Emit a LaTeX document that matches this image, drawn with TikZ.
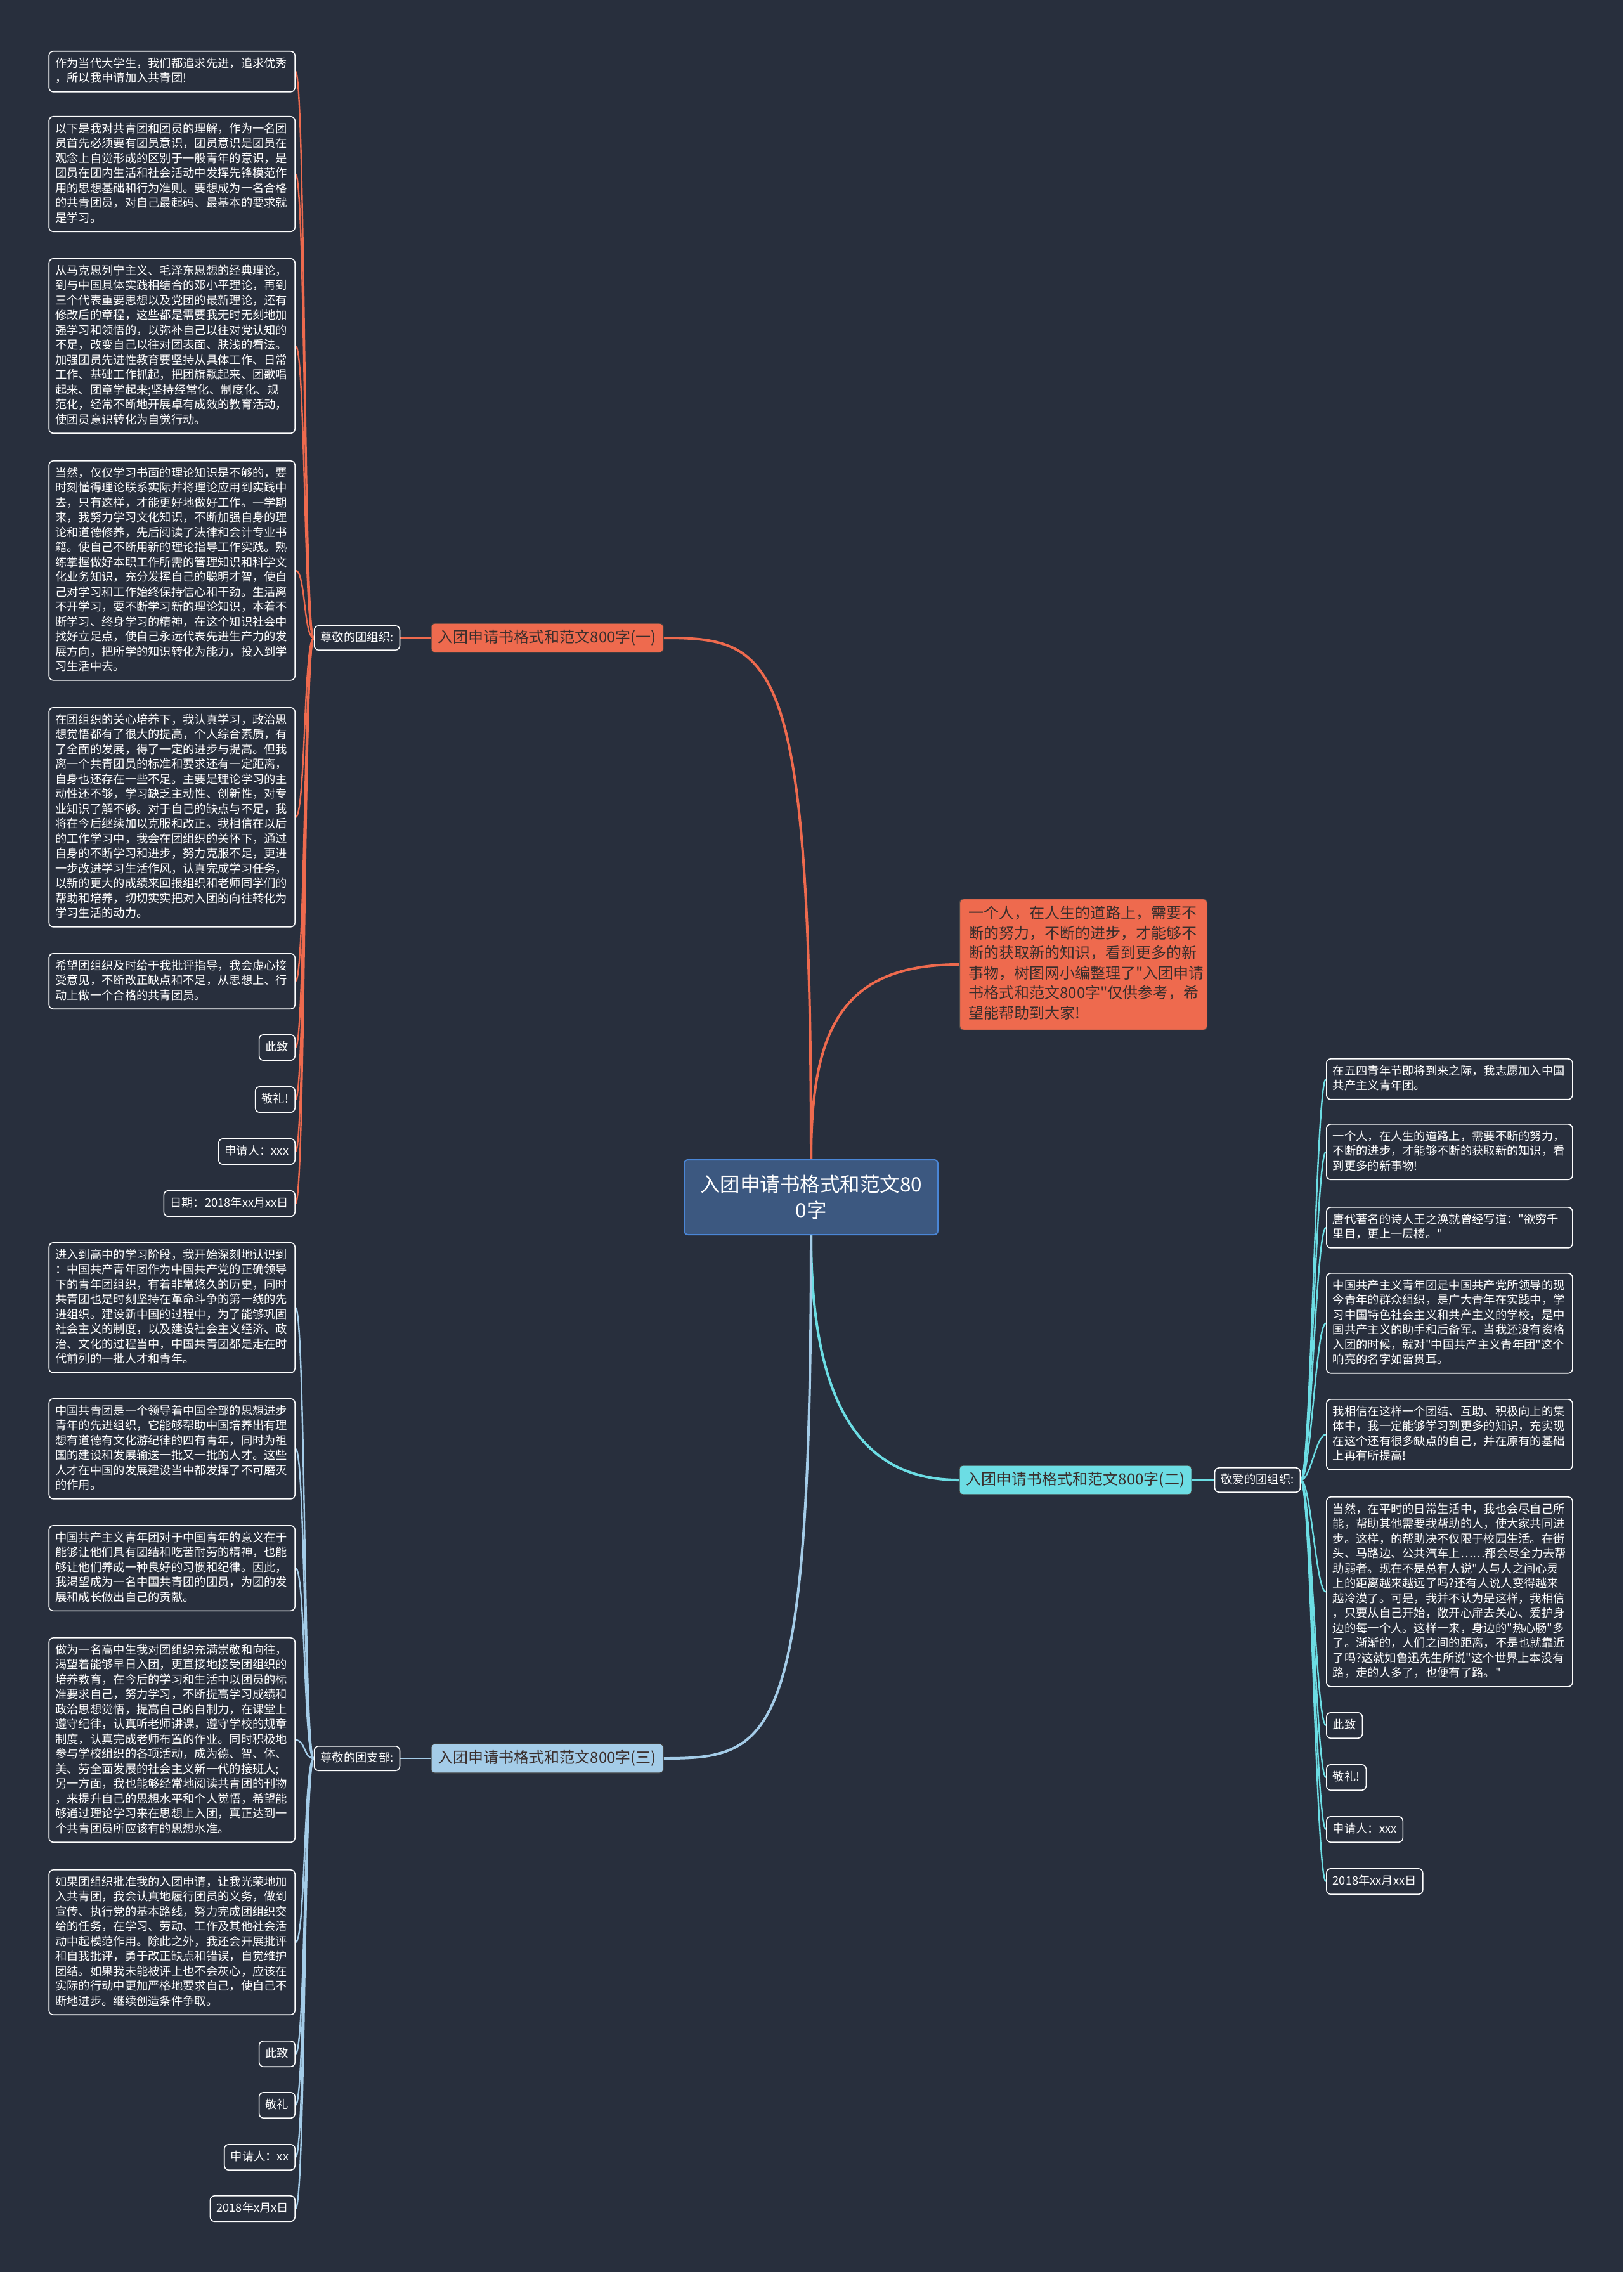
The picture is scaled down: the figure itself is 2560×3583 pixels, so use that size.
\documentclass[tikz,border=0pt]{standalone}
\usepackage{fontspec}
\setmainfont{Noto Sans CJK SC}[Ligatures=TeXOff]
\definecolor{bg}{HTML}{282F3D}
\definecolor{c1}{HTML}{EE6A4E}
\definecolor{c2}{HTML}{6CDDE4}
\definecolor{c3}{HTML}{A4CCE8}
\definecolor{ctrfill}{HTML}{3C5880}
\definecolor{ctrline}{HTML}{4A86D6}
\definecolor{dtext}{HTML}{3A2E2C}
\newcommand\lfont{\fontsize{18.3pt}{23.5pt}\selectfont}
\newcommand\lstrut{\rule[-5pt]{0pt}{18.5pt}}
\newcommand\tb[1]{\lstrut#1\lstrut}
\newcommand\istrut{\rule[-7pt]{0pt}{24.5pt}}
\pgfdeclarelayer{background}
\pgfsetlayers{background,main}
\begin{document}
\begin{tikzpicture}[x=1pt,y=-1pt,
 leaf/.style={draw=white, line width=1.6pt, rounded corners=7pt, fill=bg, text=white,
   inner xsep=10pt, inner ysep=10pt, font=\lfont, align=left},
 para/.style={leaf, text width=368pt},
 lleaf/.style={leaf, anchor=north east},
 rleaf/.style={leaf, anchor=north west},
 lpara/.style={para, anchor=north east},
 rpara/.style={para, anchor=north west},
 sub/.style={leaf, inner ysep=9pt},
 branch/.style={rounded corners=6pt, line width=1.2pt, draw=black!75,
   font=\fontsize{24pt}{30pt}\selectfont, text=dtext, inner xsep=11pt,
   minimum height=46pt, minimum width=364pt},
 main1/.style={c1, line width=4pt},
 main2/.style={c2, line width=4pt},
 main3/.style={c3, line width=4pt},
 thin1/.style={c1, line width=2.4pt},
 thin2/.style={c2, line width=2.4pt},
 thin3/.style={c3, line width=2.4pt}
]
\useasboundingbox (0,0) rectangle (2560,3583);
\begin{pgfonlayer}{background}
\fill[bg] (0,0) rectangle (2560,3583);
\end{pgfonlayer}

% center
\node[fill=ctrfill, draw=ctrline, line width=2pt, rounded corners=6pt,
  minimum width=400pt, minimum height=118pt, align=center, text=white,
  font=\fontsize{31.5pt}{41pt}\selectfont] (ctr) at (1279,1888)
  {入团申请书格式和范文80\\0字};

% intro
\node[anchor=north west, fill=c1, draw=black!70, line width=1.2pt, rounded corners=6pt,
  text width=362pt, inner xsep=14pt, inner ysep=11pt, align=left, text=dtext,
  font=\fontsize{24pt}{31.5pt}\selectfont] (intro) at (1513,1417)
  {\istrut 一个人，在人生的道路上，需要不\\
  断的努力，不断的进步，才能够不\\
  断的获取新的知识，看到更多的新\\
  事物，树图网小编整理了"入团申请\\
  书格式和范文800字"仅供参考，希\\
  望能帮助到大家!\istrut};

% branches
\node[branch, fill=c1] (b1) at (863,1006) {入团申请书格式和范文800字(一)};
\node[branch, fill=c2] (b2) at (1696,2334) {入团申请书格式和范文800字(二)};
\node[branch, fill=c3] (b3) at (863,2773) {入团申请书格式和范文800字(三)};

\node[sub] (s1) at (563,1006) {\lstrut 尊敬的团组织:};
\node[sub] (s2) at (1983,2334) {\lstrut 敬爱的团组织:};
\node[sub] (s3) at (563,2773) {\lstrut 尊敬的团支部:};

% ---------- branch 1 leaves ----------
\node[lpara] (a1) at (466,80) {\tb{作为当代大学生，我们都追求先进，追求优秀\\
，所以我申请加入共青团!}};
\node[lpara] (a2) at (466,183) {\tb{以下是我对共青团和团员的理解，作为一名团\\
员首先必须要有团员意识，团员意识是团员在\\
观念上自觉形成的区别于一般青年的意识，是\\
团员在团内生活和社会活动中发挥先锋模范作\\
用的思想基础和行为准则。要想成为一名合格\\
的共青团员，对自己最起码、最基本的要求就\\
是学习。}};
\node[lpara] (a3) at (466,407) {\tb{从马克思列宁主义、毛泽东思想的经典理论，\\
到与中国具体实践相结合的邓小平理论，再到\\
三个代表重要思想以及党团的最新理论，还有\\
修改后的章程，这些都是需要我无时无刻地加\\
强学习和领悟的，以弥补自己以往对党认知的\\
不足，改变自己以往对团表面、肤浅的看法。\\
加强团员先进性教育要坚持从具体工作、日常\\
工作、基础工作抓起，把团旗飘起来、团歌唱\\
起来、团章学起来;坚持经常化、制度化、规\\
范化，经常不断地开展卓有成效的教育活动，\\
使团员意识转化为自觉行动。}};
\node[lpara] (a4) at (466,726) {\tb{当然，仅仅学习书面的理论知识是不够的，要\\
时刻懂得理论联系实际并将理论应用到实践中\\
去，只有这样，才能更好地做好工作。一学期\\
来，我努力学习文化知识，不断加强自身的理\\
论和道德修养，先后阅读了法律和会计专业书\\
籍。使自己不断用新的理论指导工作实践。熟\\
练掌握做好本职工作所需的管理知识和科学文\\
化业务知识，充分发挥自己的聪明才智，使自\\
己对学习和工作始终保持信心和干劲。生活离\\
不开学习，要不断学习新的理论知识，本着不\\
断学习、终身学习的精神，在这个知识社会中\\
找好立足点，使自己永远代表先进生产力的发\\
展方向，把所学的知识转化为能力，投入到学\\
习生活中去。}};
\node[lpara] (a5) at (466,1115) {\tb{在团组织的关心培养下，我认真学习，政治思\\
想觉悟都有了很大的提高，个人综合素质，有\\
了全面的发展，得了一定的进步与提高。但我\\
离一个共青团员的标准和要求还有一定距离，\\
自身也还存在一些不足。主要是理论学习的主\\
动性还不够，学习缺乏主动性、创新性，对专\\
业知识了解不够。对于自己的缺点与不足，我\\
将在今后继续加以克服和改正。我相信在以后\\
的工作学习中，我会在团组织的关怀下，通过\\
自身的不断学习和进步，努力克服不足，更进\\
一步改进学习生活作风，认真完成学习任务，\\
以新的更大的成绩来回报组织和老师同学们的\\
帮助和培养，切切实实把对入团的向往转化为\\
学习生活的动力。}};
\node[lpara] (a6) at (466,1503) {\tb{希望团组织及时给于我批评指导，我会虚心接\\
受意见，不断改正缺点和不足，从思想上、行\\
动上做一个合格的共青团员。}};
\node[lleaf] (a7) at (466,1631) {\lstrut 此致};
\node[lleaf] (a8) at (466,1713) {\lstrut 敬礼!};
\node[lleaf] (a9) at (466,1795) {\lstrut 申请人：xxx};
\node[lleaf] (a10) at (466,1877) {\lstrut 日期：2018年xx月xx日};

% ---------- branch 3 leaves ----------
\node[lpara] (m1) at (466,1959) {\tb{进入到高中的学习阶段，我开始深刻地认识到\\
：中国共产青年团作为中国共产党的正确领导\\
下的青年团组织，有着非常悠久的历史，同时\\
共青团也是时刻坚持在革命斗争的第一线的先\\
进组织。建设新中国的过程中，为了能够巩固\\
社会主义的制度，以及建设社会主义经济、政\\
治、文化的过程当中，中国共青团都是走在时\\
代前列的一批人才和青年。}};
\node[lpara] (m2) at (466,2205) {\tb{中国共青团是一个领导着中国全部的思想进步\\
青年的先进组织，它能够帮助中国培养出有理\\
想有道德有文化游纪律的四有青年，同时为祖\\
国的建设和发展输送一批又一批的人才。这些\\
人才在中国的发展建设当中都发挥了不可磨灭\\
的作用。}};
\node[lpara] (m3) at (466,2405) {\tb{中国共产主义青年团对于中国青年的意义在于\\
能够让他们具有团结和吃苦耐劳的精神，也能\\
够让他们养成一种良好的习惯和纪律。因此，\\
我渴望成为一名中国共青团的团员，为团的发\\
展和成长做出自己的贡献。}};
\node[lpara] (m4) at (466,2582) {\tb{做为一名高中生我对团组织充满崇敬和向往，\\
渴望着能够早日入团，更直接地接受团组织的\\
培养教育，在今后的学习和生活中以团员的标\\
准要求自己，努力学习，不断提高学习成绩和\\
政治思想觉悟，提高自己的自制力，在课堂上\\
遵守纪律，认真听老师讲课，遵守学校的规章\\
制度，认真完成老师布置的作业。同时积极地\\
参与学校组织的各项活动，成为德、智、体、\\
美、劳全面发展的社会主义新一代的接班人;\\
另一方面，我也能够经常地阅读共青团的刊物\\
，来提升自己的思想水平和个人觉悟，希望能\\
够通过理论学习来在思想上入团，真正达到一\\
个共青团员所应该有的思想水准。}};
\node[lpara] (m5) at (466,2948) {\tb{如果团组织批准我的入团申请，让我光荣地加\\
入共青团，我会认真地履行团员的义务，做到\\
宣传、执行党的基本路线，努力完成团组织交\\
给的任务，在学习、劳动、工作及其他社会活\\
动中起模范作用。除此之外，我还会开展批评\\
和自我批评，勇于改正缺点和错误，自觉维护\\
团结。如果我未能被评上也不会灰心，应该在\\
实际的行动中更加严格地要求自己，使自己不\\
断地进步。继续创造条件争取。}};
\node[lleaf] (m6) at (466,3218) {\lstrut 此致};
\node[lleaf] (m7) at (466,3299) {\lstrut 敬礼};
\node[lleaf] (m8) at (466,3381) {\lstrut 申请人：xx};
\node[lleaf] (m9) at (466,3462) {\lstrut 2018年x月x日};

% ---------- branch 2 leaves ----------
\node[rpara] (r1) at (2091,1669) {\tb{在五四青年节即将到来之际，我志愿加入中国\\
共产主义青年团。}};
\node[rpara] (r2) at (2091,1772) {\tb{一个人，在人生的道路上，需要不断的努力，\\
不断的进步，才能够不断的获取新的知识，看\\
到更多的新事物!}};
\node[rpara] (r3) at (2091,1903) {\tb{唐代著名的诗人王之涣就曾经写道："欲穷千\\
里目，更上一层楼。"}};
\node[rpara] (r4) at (2091,2007) {\tb{中国共产主义青年团是中国共产党所领导的现\\
今青年的群众组织，是广大青年在实践中，学\\
习中国特色社会主义和共产主义的学校，是中\\
国共产主义的助手和后备军。当我还没有资格\\
入团的时候，就对"中国共产主义青年团"这个\\
响亮的名字如雷贯耳。}};
\node[rpara] (r5) at (2091,2206) {\tb{我相信在这样一个团结、互助、积极向上的集\\
体中，我一定能够学习到更多的知识，充实现\\
在这个还有很多缺点的自己，并在原有的基础\\
上再有所提高!}};
\node[rpara] (r6) at (2091,2360) {\tb{当然，在平时的日常生活中，我也会尽自己所\\
能，帮助其他需要我帮助的人，使大家共同进\\
步。这样，的帮助决不仅限于校园生活。在街\\
头、马路边、公共汽车上……都会尽全力去帮\\
助弱者。现在不是总有人说"人与人之间心灵\\
上的距离越来越远了吗?还有人说人变得越来\\
越冷漠了。可是，我并不认为是这样，我相信\\
，只要从自己开始，敞开心扉去关心、爱护身\\
边的每一个人。这样一来，身边的"热心肠"多\\
了。渐渐的，人们之间的距离，不是也就靠近\\
了吗?这就如鲁迅先生所说"这个世界上本没有\\
路，走的人多了，也便有了路。"}};
\node[rleaf] (r7) at (2091,2700) {\lstrut 此致};
\node[rleaf] (r8) at (2091,2782) {\lstrut 敬礼!};
\node[rleaf] (r9) at (2091,2864) {\lstrut 申请人：xxx};
\node[rleaf] (r10) at (2091,2946) {\lstrut 2018年xx月xx日};

% ---------- connectors ----------
\begin{pgfonlayer}{background}
\draw[main1] (ctr.north) .. controls +(0,-799) and +(175,0) .. (b1.east);
\draw[main1] (ctr.north) .. controls +(0,-209) and +(-183,0) .. (intro.west);
\draw[main2] (ctr.south) .. controls +(0,253) and +(-163,0) .. (b2.west);
\draw[main3] (ctr.south) .. controls +(0,802) and +(175,0) .. (b3.east);
\draw[thin1] (b1.west) -- (s1.east);
\draw[thin2] (b2.east) -- (s2.west);
\draw[thin3] (b3.west) -- (s3.east);
\foreach \n in {a1,a2,a3,a4,a5,a6,a7,a8,a9,a10}
  \draw[thin1] (s1.west) .. controls +(-16,0) and +(16,0) .. (\n.east);
\foreach \n in {m1,m2,m3,m4,m5,m6,m7,m8,m9}
  \draw[thin3] (s3.west) .. controls +(-16,0) and +(16,0) .. (\n.east);
\foreach \n in {r1,r2,r3,r4,r5,r6,r7,r8,r9,r10}
  \draw[thin2] (s2.east) .. controls +(16,0) and +(-16,0) .. (\n.west);
\end{pgfonlayer}
\end{tikzpicture}
\end{document}
